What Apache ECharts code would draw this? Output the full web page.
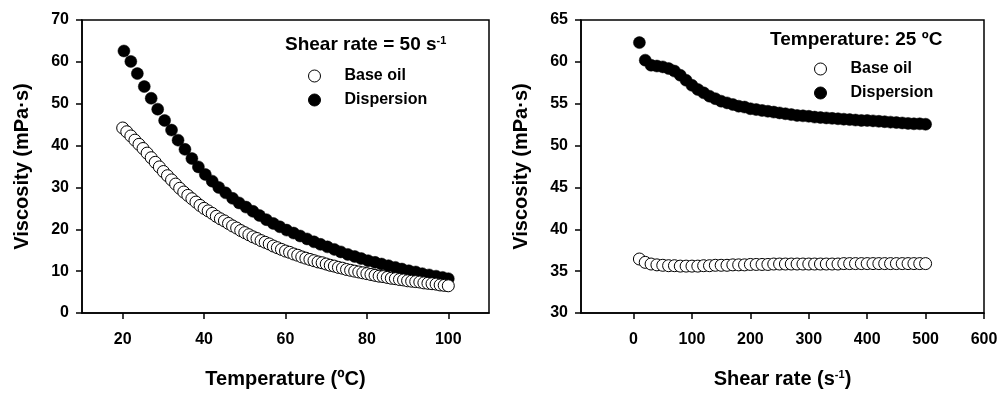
<!DOCTYPE html>
<html>
<head>
<meta charset="utf-8">
<title>Viscosity</title>
<script src="https://cdn.jsdelivr.net/npm/echarts@6/dist/echarts.min.js"></script>
<style>
  html, body { margin: 0; padding: 0; background: #fff; }
  #chart { width: 1001px; height: 394px; }
</style>
</head>
<body>
<div id="chart"></div>
<script>
// left panel - viscosity vs temperature (shear rate 50 s-1)
var tempBase = [20, 21, 22, 23, 24, 25, 26, 27, 28, 29, 30, 31, 32, 33, 34, 35, 36, 37, 38, 39,
  40, 41, 42, 43, 44, 45, 46, 47, 48, 49, 50, 51, 52, 53, 54, 55, 56, 57, 58, 59,
  60, 61, 62, 63, 64, 65, 66, 67, 68, 69, 70, 71, 72, 73, 74, 75, 76, 77, 78, 79,
  80, 81, 82, 83, 84, 85, 86, 87, 88, 89, 90, 91, 92, 93, 94, 95, 96, 97, 98, 99, 100]
var viscBase = [44.2, 43.3, 42.3, 41.3, 40.3, 39.3, 38.2, 37.1, 36.0, 34.9, 33.8, 32.8, 31.8, 30.8, 29.8, 28.9, 28.1, 27.3, 26.5, 25.7,
  25.0, 24.4, 23.8, 23.1, 22.5, 22.0, 21.4, 20.8, 20.3, 19.7, 19.2, 18.7, 18.2, 17.8, 17.3, 16.9, 16.5, 16.0, 15.6, 15.2,
  14.8, 14.5, 14.1, 13.8, 13.4, 13.1, 12.8, 12.5, 12.2, 12.0, 11.7, 11.4, 11.2, 10.9, 10.7, 10.4, 10.2, 10.0, 9.8, 9.6,
  9.4, 9.2, 9.0, 8.8, 8.7, 8.5, 8.3, 8.2, 8.0, 7.9, 7.7, 7.6, 7.5, 7.4, 7.2, 7.1, 7.0, 6.9, 6.7, 6.6, 6.5]
var tempDisp = [20.3, 22.0, 23.6, 25.3, 27.0, 28.6, 30.3, 32.0, 33.6, 35.3, 37.0, 38.6, 40.3, 42.0, 43.6, 45.3, 47.0,
  48.6, 50.3, 52.0, 53.6, 55.3, 57.0, 58.6, 60.3, 62.0, 63.6, 65.3, 67.0, 68.6, 70.3, 72.0, 73.6,
  75.3, 77.0, 78.6, 80.3, 82.0, 83.6, 85.3, 87.0, 88.6, 90.3, 92.0, 93.6, 95.3, 97.0, 98.6, 100.0]
var viscDisp = [62.6, 60.1, 57.2, 54.1, 51.3, 48.7, 46.0, 43.7, 41.3, 39.1, 36.9, 34.9, 33.1, 31.5, 30.0, 28.7, 27.4,
  26.3, 25.3, 24.3, 23.3, 22.3, 21.4, 20.6, 19.8, 19.1, 18.4, 17.7, 17.0, 16.4, 15.8, 15.2, 14.6,
  14.0, 13.5, 13.0, 12.5, 12.1, 11.7, 11.3, 10.9, 10.5, 10.1, 9.8, 9.4, 9.1, 8.8, 8.5, 8.2]
var tempTicks = [20, 40, 60, 80, 100]

// right panel - viscosity vs shear rate (25 ºC)
var shearRate = [10, 20, 30, 40, 50, 60, 70, 80, 90, 100, 110, 120, 130, 140, 150, 160, 170, 180, 190, 200,
  210, 220, 230, 240, 250, 260, 270, 280, 290, 300, 310, 320, 330, 340, 350, 360, 370, 380, 390, 400,
  410, 420, 430, 440, 450, 460, 470, 480, 490, 500]
var viscBaseShear = [36.45, 36.05, 35.85, 35.75, 35.7, 35.65, 35.65, 35.6, 35.6, 35.6, 35.6, 35.65, 35.65, 35.7, 35.7, 35.7, 35.75, 35.75, 35.75, 35.8,
  35.8, 35.8, 35.8, 35.85, 35.85, 35.85, 35.85, 35.85, 35.85, 35.85, 35.85, 35.85, 35.85, 35.85, 35.85, 35.9, 35.9, 35.9, 35.9, 35.9,
  35.9, 35.9, 35.9, 35.9, 35.9, 35.9, 35.9, 35.9, 35.9, 35.9]
var viscDispShear = [62.3, 60.2, 59.6, 59.5, 59.4, 59.2, 58.9, 58.4, 57.8, 57.2, 56.7, 56.3, 55.9, 55.6, 55.3, 55.1, 54.9, 54.7, 54.6, 54.4,
  54.3, 54.2, 54.1, 54.0, 53.9, 53.8, 53.7, 53.6, 53.55, 53.5, 53.4, 53.35, 53.3, 53.25, 53.2, 53.15, 53.1, 53.05, 53.0, 53.0,
  52.95, 52.9, 52.85, 52.8, 52.75, 52.7, 52.65, 52.6, 52.6, 52.55]
var shearTicks = [0, 100, 200, 300, 400, 500, 600]

var FONT = 'Liberation Sans, Arial, sans-serif'

function pairs(xs, ys) {
  return xs.map(function (x, i) { return [x, ys[i]] })
}

var supStyle = { fontSize: 11, fontWeight: 'bold', fontFamily: FONT, color: '#000', verticalAlign: 'top' }

function xAxisOpt(idx, min, max, ticks, name) {
  return {
    gridIndex: idx,
    type: 'value',
    min: min,
    max: max,
    axisLine: { show: true, onZero: false, lineStyle: { color: '#000', width: 1.5 } },
    axisTick: { show: true, length: 6, customValues: ticks, lineStyle: { color: '#000', width: 1.5 } },
    axisLabel: { customValues: ticks, margin: 19, color: '#000', fontSize: 16, fontWeight: 'bold', fontFamily: FONT },
    splitLine: { show: false },
    name: name,
    nameLocation: 'middle',
    nameGap: 56,
    nameTextStyle: {
      color: '#000', fontSize: 20, fontWeight: 'bold', fontFamily: FONT,
      rich: { sup: supStyle }
    }
  }
}

function yAxisOpt(idx, min, max, interval) {
  return {
    gridIndex: idx,
    type: 'value',
    min: min,
    max: max,
    interval: interval,
    axisLine: { show: true, onZero: false, lineStyle: { color: '#000', width: 1.5 } },
    axisTick: { show: true, length: 6, lineStyle: { color: '#000', width: 1.5 } },
    axisLabel: { margin: 13, color: '#000', fontSize: 16, fontWeight: 'bold', fontFamily: FONT },
    splitLine: { show: false },
    name: 'Viscosity (mPa·s)',
    nameLocation: 'middle',
    nameGap: 50,
    nameTextStyle: { color: '#000', fontSize: 20, fontWeight: 'bold', fontFamily: FONT }
  }
}

function legendOpt(left, top) {
  return {
    data: ['Base oil', 'Dispersion'],
    orient: 'vertical',
    left: left,
    top: top,
    padding: 0,
    itemWidth: 50,
    itemHeight: 12,
    itemGap: 8,
    selectedMode: false,
    itemStyle: { borderColor: '#000', borderWidth: 1 },
    textStyle: { color: '#000', fontSize: 16, fontWeight: 'bold', fontFamily: FONT }
  }
}

function titleOpt(text, left, top) {
  return {
    text: text,
    left: left,
    top: top,
    padding: 0,
    textStyle: {
      color: '#000', fontSize: 19, fontWeight: 'bold', fontFamily: FONT,
      rich: { sup: supStyle }
    }
  }
}

var openDot = { color: '#fff', borderColor: '#000', borderWidth: 1, opacity: 1 }
var fullDot = { color: '#000', borderColor: '#000', borderWidth: 0.5, opacity: 1 }

var chart = echarts.init(document.getElementById('chart'), null, { renderer: 'canvas' })
chart.setOption({
  backgroundColor: '#fff',
  animation: false,
  title: [
    titleOpt('Shear rate = 50 s{sup|-1}', 285, 35),
    titleOpt('Temperature: 25 ºC', 770, 30)
  ],
  legend: [legendOpt(308, 68), legendOpt(814, 61)],
  grid: [
    { left: 82, top: 20, width: 407, height: 295, show: true, borderColor: '#000', borderWidth: 1.5, backgroundColor: 'transparent' },
    { left: 581, top: 20, width: 403, height: 295, show: true, borderColor: '#000', borderWidth: 1.5, backgroundColor: 'transparent' }
  ],
  xAxis: [
    xAxisOpt(0, 10, 110, tempTicks, 'Temperature (ºC)'),
    xAxisOpt(1, -90, 600, shearTicks, 'Shear rate (s{sup|-1})')
  ],
  yAxis: [
    yAxisOpt(0, 0, 70, 10),
    yAxisOpt(1, 30, 65, 5)
  ],
  series: [
    { name: 'Dispersion', type: 'scatter', xAxisIndex: 0, yAxisIndex: 0, symbolSize: 12,
      itemStyle: fullDot, emphasis: { disabled: true }, data: pairs(tempDisp, viscDisp) },
    { name: 'Base oil', type: 'scatter', xAxisIndex: 0, yAxisIndex: 0, symbolSize: 12,
      itemStyle: openDot, emphasis: { disabled: true }, data: pairs(tempBase, viscBase) },
    { name: 'Dispersion', type: 'scatter', xAxisIndex: 1, yAxisIndex: 1, symbolSize: 12,
      itemStyle: fullDot, emphasis: { disabled: true }, data: pairs(shearRate, viscDispShear) },
    { name: 'Base oil', type: 'scatter', xAxisIndex: 1, yAxisIndex: 1, symbolSize: 12,
      itemStyle: openDot, emphasis: { disabled: true }, data: pairs(shearRate, viscBaseShear) }
  ]
})
</script>
</body>
</html>
